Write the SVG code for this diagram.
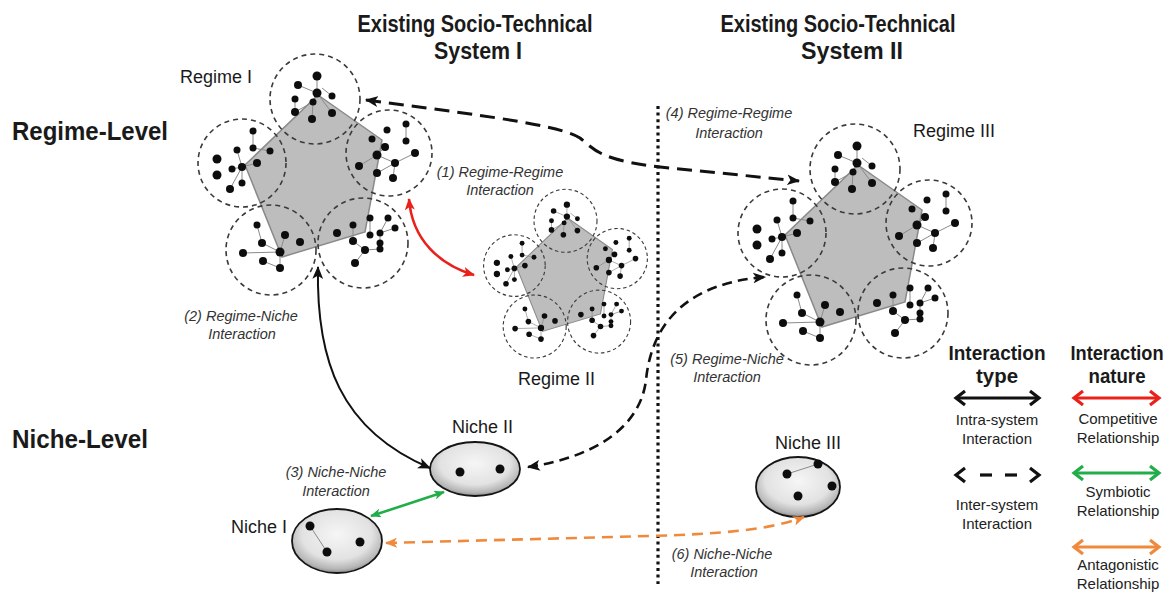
<svg xmlns="http://www.w3.org/2000/svg" xmlns:xlink="http://www.w3.org/1999/xlink" width="1173" height="594" viewBox="0 0 1173 594">
<style>
text{font-family:"Liberation Sans",Arial,sans-serif;fill:#1a1a1a}
.hd{font-weight:bold;font-size:23px;text-anchor:middle}
.lvl{font-weight:bold;font-size:25px}
.nm{font-size:18px}
.it{font-style:italic;font-size:14.5px;fill:#333;text-anchor:middle}
.lg{font-size:15px;fill:#222;text-anchor:middle}
.lgh{font-weight:bold;font-size:20px;text-anchor:middle}
.pent{fill:#bdbdbd;stroke:#8a8a8a;stroke-width:1.5}
.ring{fill:none;stroke:#3a3a3a;stroke-width:1.6;stroke-dasharray:5 4}
.edge{stroke:#8a8a8a;stroke-width:1;fill:none}
.dot{fill:#0d0d0d}
.niche{fill:url(#ng);stroke:#151515;stroke-width:1.8}
.c{fill:none;stroke-linecap:butt}
</style>
<defs>
<radialGradient id="ng" cx="50%" cy="40%" r="60%">
<stop offset="0" stop-color="#f6f6f6"/>
<stop offset="0.65" stop-color="#e2e2e2"/>
<stop offset="0.9" stop-color="#b5b5b5"/>
<stop offset="1" stop-color="#8a8a8a"/>
</radialGradient>
<marker id="ak" viewBox="0 0 12 10" refX="11" refY="5" markerWidth="13" markerHeight="11" markerUnits="userSpaceOnUse" orient="auto-start-reverse"><path d="M0,0 L12,5 L0,10 L3,5z" fill="#111"/></marker>
<marker id="ar" viewBox="0 0 12 10" refX="11" refY="5" markerWidth="12" markerHeight="10" markerUnits="userSpaceOnUse" orient="auto-start-reverse"><path d="M0,0 L12,5 L0,10 L3,5z" fill="#e8221b"/></marker>
<marker id="ag" viewBox="0 0 12 10" refX="11" refY="5" markerWidth="11" markerHeight="9" markerUnits="userSpaceOnUse" orient="auto-start-reverse"><path d="M0,0 L12,5 L0,10 L3,5z" fill="#20ad4a"/></marker>
<marker id="ao" viewBox="0 0 12 10" refX="11" refY="5" markerWidth="12" markerHeight="10" markerUnits="userSpaceOnUse" orient="auto-start-reverse"><path d="M0,0 L12,5 L0,10 L3,5z" fill="#ef8a3d"/></marker>
<g id="cluster">
<polygon class="pent" points="318,95 382,140 365,232 282,257 245,165"/>
<circle class="ring" cx="315" cy="99" r="45"/>
<circle class="ring" cx="389" cy="153" r="43"/>
<circle class="ring" cx="242" cy="163" r="44"/>
<circle class="ring" cx="271" cy="250" r="45"/>
<circle class="ring" cx="363" cy="243" r="45"/>
<path class="edge" d="M317,76L317,93M298,85L317,93M317,93L313,102M313,102L295,112M317,93L332,113M295,99L295,112M313,102L312,119M332,96L322,88
M253,131L253,148M237,150L242,167M242,167L257,163M232,169L242,167M242,167L230,189M242,167L242,183M253,148L270,151
M406,124L406,141M359,166L377,155M377,155L395,163M395,163L415,153M395,163L393,178M377,173L395,163M385,147L377,155
M257,225L262,243M262,243L280,252M243,253L280,252M280,252L285,235M263,261L280,268M280,252L280,268
M353,225L353,241M370,218L370,235M388,218L380,233M380,233L395,228M353,241L365,250M365,250L380,249M365,250L355,263M380,233L380,243"/>
<g class="dot">
<circle cx="317" cy="76" r="4.5"/><circle cx="298" cy="85" r="4"/><circle cx="317" cy="93" r="4.5"/><circle cx="332" cy="96" r="3.5"/><circle cx="295" cy="99" r="3.5"/><circle cx="313" cy="102" r="3.5"/><circle cx="295" cy="112" r="4"/><circle cx="332" cy="113" r="4"/><circle cx="312" cy="119" r="4"/>
<circle cx="253" cy="131" r="3.5"/><circle cx="237" cy="150" r="3.5"/><circle cx="253" cy="148" r="3.5"/><circle cx="270" cy="151" r="3.5"/><circle cx="217" cy="159" r="4.5"/><circle cx="257" cy="163" r="4"/><circle cx="242" cy="167" r="4"/><circle cx="232" cy="169" r="3.5"/><circle cx="217" cy="175" r="4.5"/><circle cx="242" cy="183" r="3.5"/><circle cx="230" cy="189" r="4"/>
<circle cx="387" cy="130" r="3.5"/><circle cx="406" cy="124" r="3.5"/><circle cx="372" cy="139" r="3.5"/><circle cx="406" cy="141" r="3.5"/><circle cx="385" cy="147" r="4"/><circle cx="377" cy="155" r="4.5"/><circle cx="415" cy="153" r="4"/><circle cx="359" cy="166" r="4"/><circle cx="395" cy="163" r="4"/><circle cx="377" cy="173" r="4"/><circle cx="393" cy="178" r="4"/>
<circle cx="257" cy="225" r="3.5"/><circle cx="285" cy="235" r="4"/><circle cx="262" cy="243" r="4"/><circle cx="300" cy="242" r="4"/><circle cx="243" cy="253" r="4"/><circle cx="280" cy="252" r="4.5"/><circle cx="263" cy="261" r="4"/><circle cx="280" cy="268" r="4"/>
<circle cx="353" cy="225" r="3.5"/><circle cx="370" cy="218" r="3.5"/><circle cx="388" cy="218" r="3.5"/><circle cx="337" cy="233" r="4"/><circle cx="370" cy="235" r="3.5"/><circle cx="380" cy="233" r="3.5"/><circle cx="395" cy="228" r="3.5"/><circle cx="353" cy="241" r="4"/><circle cx="380" cy="243" r="3.5"/><circle cx="365" cy="250" r="4"/><circle cx="380" cy="249" r="3.5"/><circle cx="355" cy="263" r="4"/>
</g>
</g>
</defs>
<rect width="1173" height="594" fill="#ffffff"/>

<g id="titles">
<text class="hd" x="475" y="32" textLength="235" lengthAdjust="spacingAndGlyphs">Existing Socio-Technical</text>
<text class="hd" x="478" y="59" textLength="88" lengthAdjust="spacingAndGlyphs">System I</text>
<text class="hd" x="838" y="32" textLength="235" lengthAdjust="spacingAndGlyphs">Existing Socio-Technical</text>
<text class="hd" x="852" y="59" textLength="102" lengthAdjust="spacingAndGlyphs">System II</text>
<text class="lvl" x="12" y="140" textLength="156" lengthAdjust="spacingAndGlyphs">Regime-Level</text>
<text class="lvl" x="12" y="448" textLength="136" lengthAdjust="spacingAndGlyphs">Niche-Level</text>
</g>

<g id="divider">
<line x1="658" y1="106" x2="658" y2="584" stroke="#111" stroke-width="3.2" stroke-dasharray="3 3.6"/>
</g>

<g id="regime-1">
<use xlink:href="#cluster" href="#cluster"/>
<text class="nm" x="180" y="83">Regime I</text>
</g>
<g id="regime-2">
<use xlink:href="#cluster" href="#cluster" transform="translate(345,151.5) scale(0.7)"/>
<text class="nm" x="518" y="385">Regime II</text>
</g>
<g id="regime-3">
<use xlink:href="#cluster" href="#cluster" transform="translate(540,70)"/>
<text class="nm" x="913" y="137">Regime III</text>
</g>

<g id="niche-1">
<ellipse class="niche" cx="337" cy="541" rx="45" ry="32"/>
<line class="edge" x1="310" y1="526" x2="327" y2="552" stroke="#333"/>
<circle class="dot" cx="310" cy="526" r="4.5"/><circle class="dot" cx="327" cy="552" r="4.5"/><circle class="dot" cx="360" cy="542" r="4.5"/>
<text class="nm" x="231" y="533" font-size="16.5">Niche I</text>
</g>
<g id="niche-2">
<ellipse class="niche" cx="475" cy="469" rx="45" ry="27"/>
<circle class="dot" cx="460" cy="472" r="4.5"/><circle class="dot" cx="500" cy="469" r="4.5"/>
<text class="nm" x="452" y="433" font-size="16.5">Niche II</text>
</g>
<g id="niche-3">
<ellipse class="niche" cx="798" cy="487" rx="42" ry="30"/>
<line class="edge" x1="787" y1="474" x2="818" y2="464" stroke="#333"/>
<circle class="dot" cx="787" cy="474" r="4.5"/><circle class="dot" cx="818" cy="464" r="4.5"/><circle class="dot" cx="832" cy="486" r="4.5"/><circle class="dot" cx="798" cy="496" r="4.5"/>
<text class="nm" x="775" y="449" font-size="16.5">Niche III</text>
</g>

<g id="connectors">
<path class="c" d="M409,199 C412,240 440,265 474,275" stroke="#e8221b" stroke-width="2.6" marker-start="url(#ar)" marker-end="url(#ar)"/>
<path class="c" d="M318,267 C316,360 340,430 430,468" stroke="#111" stroke-width="2" marker-start="url(#ak)" marker-end="url(#ak)"/>
<path class="c" d="M371,516 Q405,505 444,492" stroke="#20ad4a" stroke-width="2.6" marker-start="url(#ag)" marker-end="url(#ag)"/>
<path class="c" d="M366,100 C480,115 560,125 580,138 C595,150 600,160 660,167 L799,181" stroke="#111" stroke-width="3" stroke-dasharray="15 8" marker-start="url(#ak)" marker-end="url(#ak)"/>
<path class="c" d="M528,467 C590,458 640,430 646,380 C652,320 690,283 765,277" stroke="#111" stroke-width="2.6" stroke-dasharray="10 6" marker-start="url(#ak)" marker-end="url(#ak)"/>
<path class="c" d="M386,543 L650,536 C720,534 770,530 804,517" stroke="#ef8a3d" stroke-width="2.6" stroke-dasharray="11 7" marker-start="url(#ao)" marker-end="url(#ao)"/>
</g>

<g id="labels">
<text class="it" x="500" y="177">(1) Regime-Regime</text>
<text class="it" x="500" y="195">Interaction</text>
<text class="it" x="241" y="321">(2) Regime-Niche</text>
<text class="it" x="242" y="339">Interaction</text>
<text class="it" x="336" y="477">(3) Niche-Niche</text>
<text class="it" x="336" y="496">Interaction</text>
<text class="it" x="729" y="118">(4) Regime-Regime</text>
<text class="it" x="729" y="138">Interaction</text>
<text class="it" x="727" y="364">(5) Regime-Niche</text>
<text class="it" x="727" y="382">Interaction</text>
<text class="it" x="722" y="559">(6) Niche-Niche</text>
<text class="it" x="724" y="577">Interaction</text>
</g>

<g id="legend">
<text class="lgh" x="997" y="360" textLength="97" lengthAdjust="spacingAndGlyphs">Interaction</text>
<text class="lgh" x="997" y="383" textLength="42" lengthAdjust="spacingAndGlyphs">type</text>
<text class="lgh" x="1117" y="360" textLength="93" lengthAdjust="spacingAndGlyphs">Interaction</text>
<text class="lgh" x="1117" y="383" textLength="57" lengthAdjust="spacingAndGlyphs">nature</text>
<g fill="none" stroke-width="3.2" stroke-linejoin="miter">
<g stroke="#111">
<line x1="957" y1="398" x2="1038" y2="398"/>
<polyline points="965,391 956,398 965,405"/>
<polyline points="1030,391 1039,398 1030,405"/>
<polyline points="965,468 956,475 965,482"/>
<line x1="980" y1="475" x2="992" y2="475"/>
<line x1="1005" y1="475" x2="1017" y2="475"/>
<polyline points="1030,468 1039,475 1030,482"/>
</g>
<g stroke="#e8221b">
<line x1="1075" y1="398" x2="1158" y2="398"/>
<polyline points="1083,391 1074,398 1083,405"/>
<polyline points="1150,391 1159,398 1150,405"/>
</g>
<g stroke="#20ad4a">
<line x1="1075" y1="473" x2="1158" y2="473"/>
<polyline points="1083,466 1074,473 1083,480"/>
<polyline points="1150,466 1159,473 1150,480"/>
</g>
<g stroke="#ef8a3d">
<line x1="1075" y1="547" x2="1158" y2="547"/>
<polyline points="1083,540 1074,547 1083,554"/>
<polyline points="1150,540 1159,547 1150,554"/>
</g>
</g>
<text class="lg" x="997" y="425">Intra-system</text>
<text class="lg" x="997" y="444">Interaction</text>
<text class="lg" x="997" y="510">Inter-system</text>
<text class="lg" x="997" y="529">Interaction</text>
<text class="lg" x="1118" y="424">Competitive</text>
<text class="lg" x="1118" y="443">Relationship</text>
<text class="lg" x="1118" y="497">Symbiotic</text>
<text class="lg" x="1118" y="516">Relationship</text>
<text class="lg" x="1118" y="570">Antagonistic</text>
<text class="lg" x="1118" y="589">Relationship</text>
</g>
</svg>
